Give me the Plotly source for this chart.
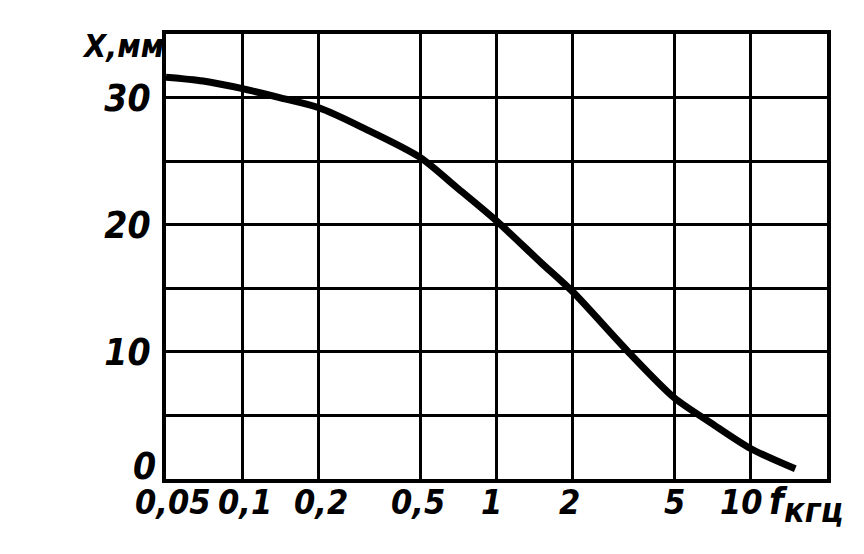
import numpy as np
import plotly.graph_objects as go

# Data
freq_khz = [0.05, 0.07, 0.1, 0.14, 0.2, 0.3, 0.5, 0.7, 1.0, 1.5, 2.0, 3.3, 5.0, 7.0, 10.0, 15.0]
x_mm = [31.6, 31.3, 30.7, 30.0, 29.2, 27.6, 25.3, 22.9, 20.3, 17.0, 14.7, 10.0, 6.4, 4.4, 2.4, 0.8]

x_tickvals = [0.05, 0.1, 0.2, 0.5, 1, 2, 5, 10, 20]
x_ticktext = ["0,05", "0,1", "0,2", "0,5", "1", "2", "5", "10", ""]
y_tickvals = [0, 5, 10, 15, 20, 25, 30, 35]
y_ticktext = ["0", "", "10", "", "20", "", "30", ""]
x_title = "f"
x_unit = "кгц"
y_title = "X,мм"

# pixel nudges of the hand-lettered x labels (layout only)
x_label_nudge = [6, 3, 2, -2, -5, -3, 0, -9, 0]

FONT = "DejaVu Sans Condensed"
tickfont = dict(family=FONT, size=37, color="black", style="italic", weight="bold")
xtickfont = dict(family=FONT, size=34, color="black", style="italic", weight="bold")

fig = go.Figure()
fig.add_trace(go.Scatter(
    x=freq_khz, y=x_mm, mode="lines",
    line=dict(color="black", width=7, shape="spline", smoothing=0.8),
    showlegend=False, hoverinfo="skip",
))

fig.update_xaxes(
    type="log", range=[np.log10(0.05), np.log10(20)],
    tickmode="array", tickvals=x_tickvals, ticktext=[""] * len(x_tickvals),
    showgrid=True, gridcolor="black", gridwidth=3,
    showline=True, linecolor="black", linewidth=4, mirror=True,
    ticks="", zeroline=False, automargin=False,
)
fig.update_yaxes(
    range=[0, 35],
    tickmode="array", tickvals=y_tickvals,
    ticktext=[""] + y_ticktext[1:],
    showgrid=True, gridcolor="black", gridwidth=3,
    showline=True, linecolor="black", linewidth=4, mirror=True,
    ticks="", tickfont=tickfont, zeroline=False, ticklabelstandoff=4,
    automargin=False,
)

# x tick labels as annotations under each grid line
for v, t, dx in zip(x_tickvals, x_ticktext, x_label_nudge):
    if t:
        fig.add_annotation(
            x=np.log10(v), y=0, xref="x", yref="y",
            text=t, showarrow=False,
            xanchor="center", yanchor="top", xshift=dx, yshift=-1,
            font=xtickfont,
        )

fig.add_annotation(
    x=0, y=y_tickvals[0], xref="paper", yref="y",
    text=y_ticktext[0], showarrow=False,
    xanchor="right", yanchor="middle", xshift=-8, yshift=13,
    font=tickfont,
)
fig.add_annotation(
    x=np.log10(x_tickvals[-1]), y=0, xref="x", yref="y",
    text=x_title + "<sub><span style='font-size:34px'>" + x_unit + "</span></sub>",
    showarrow=False,
    xanchor="left", yanchor="top", xshift=-60, yshift=2,
    font=dict(family=FONT, size=38, color="black", style="italic", weight="bold"),
)
fig.add_annotation(
    x=0, y=35, xref="paper", yref="y",
    text=y_title, showarrow=False,
    xanchor="right", yanchor="top", xshift=0, yshift=9,
    font=dict(family=FONT, size=32, color="black", style="italic", weight="bold"),
)

fig.update_layout(
    width=864, height=554,
    margin=dict(l=166, r=37, t=34, b=75),
    plot_bgcolor="white", paper_bgcolor="white",
)

fig.write_html("out.html", config={"displayModeBar": False},
               post_script="document.body.style.margin='0';")
